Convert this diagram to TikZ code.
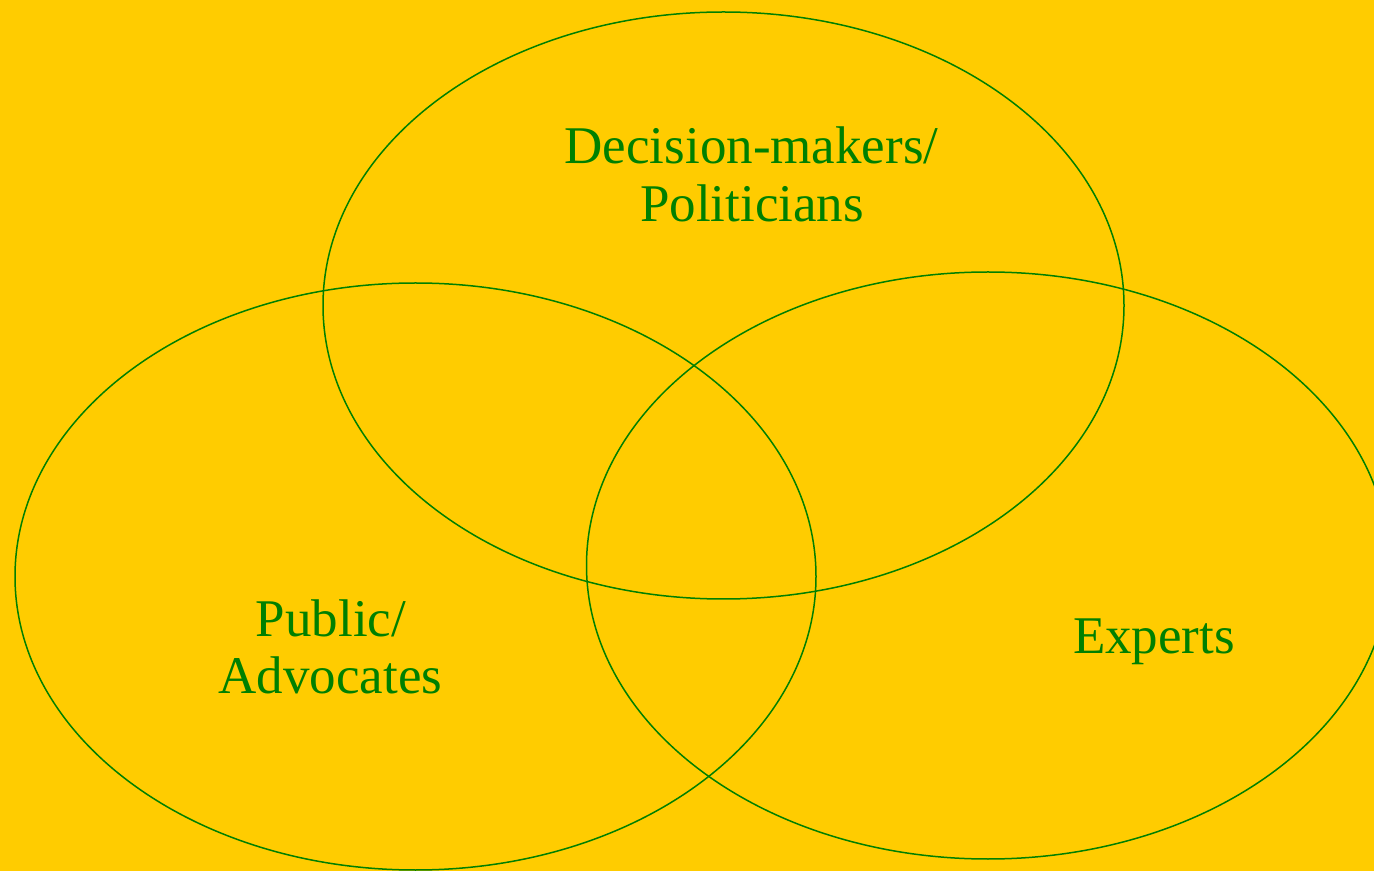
\documentclass[tikz,border=0pt]{standalone}
\usepackage{fontspec}
\setmainfont{Liberation Serif}
\definecolor{bg}{HTML}{FFCC00}
\definecolor{leaf}{HTML}{008000}
\begin{document}
\begin{tikzpicture}[x=1pt,y=1pt,
  ring/.style={draw=leaf,line width=1.5pt},
  lbl/.style={text=leaf,font=\fontsize{53}{57}\selectfont,anchor=base,inner sep=0pt}]
\useasboundingbox (0,0) rectangle (1374,871);
\fill[bg] (0,0) rectangle (1374,871);
\clip (0,0) rectangle (1374,871);
\draw[ring] (723.5,565.5) ellipse [x radius=400.5, y radius=293.5];
\draw[ring] (415.5,294.5) ellipse [x radius=400.5, y radius=293.5];
\draw[ring] (988,305.5) ellipse [x radius=401.5, y radius=293.5];
\node[lbl] (dm1) at (751.5,707) {Decision-makers/};
\node[lbl] (dm2) at (752,649) {Politicians};
\node[lbl] (pa1) at (331,234) {Public/};
\node[lbl] (pa2) at (330.5,178) {Advocates};
\node[lbl] (ex) at (1154,218) {Experts};
\end{tikzpicture}
\end{document}
